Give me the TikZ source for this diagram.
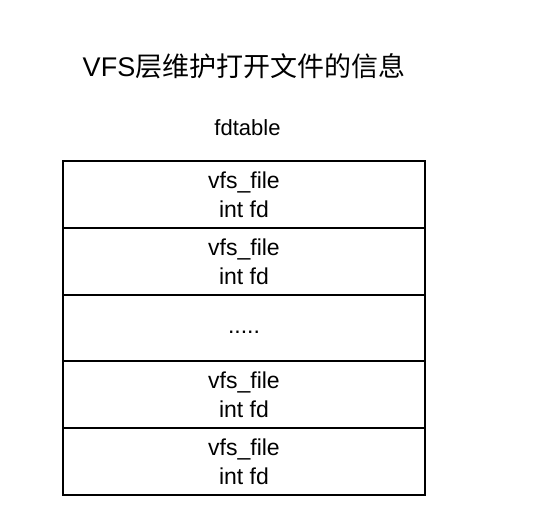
\documentclass[tikz,border=0pt]{standalone}
\usepackage{fontspec}
\setmainfont{Liberation Sans}
\newfontfamily\cjk{Noto Sans CJK SC}
\begin{document}
\begin{tikzpicture}[x=1pt,y=-1pt,
  cell/.style={draw=black,line width=1.2pt,minimum width=362pt,minimum height=67pt,inner sep=0pt,align=center,font=\fontsize{23}{29}\selectfont},
  lbl/.style={inner sep=0pt,align=center}]
\useasboundingbox[fill=white] (0,0) rectangle (551,525);
\node[lbl,font=\fontsize{27}{32}\selectfont] (title) at (244,66) {VFS{\cjk 层维护打开文件的信息}};
\node[lbl,font=\fontsize{22}{28}\selectfont] (fdt) at (247.5,128) {fdtable};
\node[cell] (r1) at (244,194.5) {vfs\_file\\int fd};
\node[cell] (r2) at (244,261.5) {vfs\_file\\int fd};
\node[cell] (r3) at (244,328) {\strut.....};
\node[cell] (r4) at (244,394.5) {vfs\_file\\int fd};
\node[cell] (r5) at (244,461.5) {vfs\_file\\int fd};
\end{tikzpicture}
\end{document}
